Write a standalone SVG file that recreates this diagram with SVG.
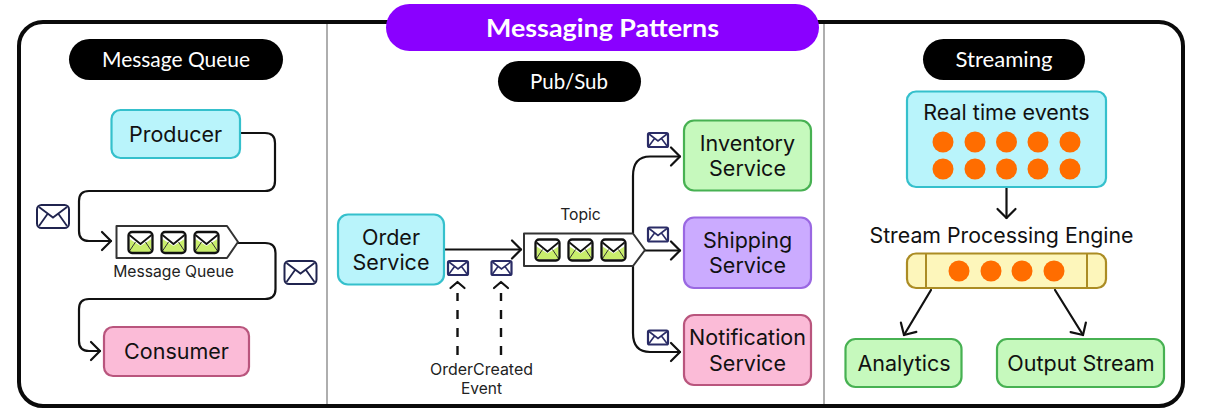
<svg xmlns="http://www.w3.org/2000/svg" xmlns:xlink="http://www.w3.org/1999/xlink" width="1208" height="411" viewBox="0 0 1208 411">
<style>
text{font-family:"Inter","Liberation Sans",sans-serif;fill:#111;text-anchor:middle}
.t{font-size:21.500px}
.s{font-size:15.700px;fill:#222}
.h{font-family:"Lato","Open Sans",sans-serif;font-size:21px;fill:#fff}
.b{stroke-width:2.200}
.blue{fill:#b9f4fb;stroke:#35c0cc}
.pink{fill:#fbbbd7;stroke:#b9557d}
.green{fill:#c6f9bd;stroke:#47b152}
.purple{fill:#cbabff;stroke:#9a68e2}
.yellow{fill:#fdf6bb;stroke:#ab8c24}
.line{fill:none;stroke:#111;stroke-width:2.200;stroke-linecap:round;stroke-linejoin:round}
.dash{stroke-dasharray:9 9;stroke-width:2.400;stroke-linecap:butt}
.q{fill:#fff;stroke:#333;stroke-width:2;stroke-linejoin:round}
.dot{fill:#ff6d00}
</style>
<defs>
<marker id="arr" markerUnits="userSpaceOnUse" markerWidth="20" markerHeight="24" refX="17" refY="12" orient="auto">
<path d="M8 3L17 12L8 21" fill="none" stroke="#111" stroke-width="2.200" stroke-linecap="round" stroke-linejoin="round"/>
</marker>
<g id="gm">
<rect x="0" y="0" width="24" height="21" rx="3.500" fill="#fff"/>
<path d="M1 20L1 7L12 14L23 7L23 20Z" fill="#c9ee6c"/>
<path d="M1 3L12 12L23 3" fill="none" stroke="#111" stroke-width="1.800"/>
<path d="M1 19L7 10M23 19L17 10" fill="none" stroke="#333" stroke-width="1"/>
<rect x="0" y="0" width="24" height="21" rx="3.500" fill="none" stroke="#111" stroke-width="2.300"/>
</g>
<g id="em">
<rect x="1" y="1" width="32" height="23" rx="4.500" fill="#fff" stroke="#20244f" stroke-width="2"/>
<path d="M3 3L17 13.500L31 3M3 22L11.500 10M31 22L22.500 10" fill="none" stroke="#20244f" stroke-width="1.800"/>
</g>
<g id="es">
<rect x="1" y="1" width="20" height="14" rx="1.500" fill="#fff" stroke="#2a2c66" stroke-width="2.200"/>
<path d="M2 2L11 9L20 2M2 14L7.500 6.500M20 14L14.500 6.500" fill="none" stroke="#2a2c66" stroke-width="1.600"/>
</g>
</defs>

<g id="frame">
<rect x="19" y="22" width="1164" height="384" rx="24" fill="#fff" stroke="#0a0a0a" stroke-width="4"/>
<path d="M327 24V404M824 24V404" stroke="#a6a6a6" stroke-width="1.800"/>
</g>

<g id="title">
<rect x="386" y="4" width="433" height="47" rx="23.500" fill="#8a00ff"/>
<text class="h" x="602.500" y="37" style="font-size:25px;font-weight:700" textLength="233" lengthAdjust="spacingAndGlyphs">Messaging Patterns</text>
</g>
<g id="header-queue">
<rect x="69" y="39" width="214" height="41" rx="20.500" fill="#000"/>
<text class="h" x="176" y="67" textLength="148" lengthAdjust="spacingAndGlyphs">Message Queue</text>
</g>
<g id="header-pubsub">
<rect x="498" y="61" width="143" height="41" rx="20.500" fill="#000"/>
<text class="h" x="569" y="89" textLength="78" lengthAdjust="spacingAndGlyphs">Pub/Sub</text>
</g>
<g id="header-streaming">
<rect x="923" y="39" width="162" height="41" rx="20.500" fill="#000"/>
<text class="h" x="1004" y="67" textLength="97" lengthAdjust="spacingAndGlyphs">Streaming</text>
</g>

<g id="connectors">
<path class="line" d="M240 133H265Q275 133 275 143V181Q275 191 265 191H89Q79 191 79 201V231Q79 241 89 241H111" marker-end="url(#arr)"/>
<path class="line" d="M238 243H265Q275.500 243 275.500 253V289Q275.500 299 265 299H89Q79 299 79 309V341Q79 351 89 351H100" marker-end="url(#arr)"/>
<path class="line" d="M445 249.500H521" marker-end="url(#arr)"/>
<path class="line" d="M633 233V176Q633 156.500 650 156.500H680" marker-end="url(#arr)"/>
<path class="line" d="M645 250.500H680" marker-end="url(#arr)"/>
<path class="line" d="M633 266V333Q633 352 650 352H680" marker-end="url(#arr)"/>
<path class="line dash" d="M457.500 355V293"/>
<path class="line dash" d="M501 355V293"/>
<path class="line" d="M450.500 288L457.500 282L464.500 288M494 288L501 282L508 288"/>
<path class="line" d="M1006.500 188V218" marker-end="url(#arr)"/>
<path class="line" d="M931 290L904 335" marker-end="url(#arr)"/>
<path class="line" d="M1055 290L1083 335" marker-end="url(#arr)"/>
</g>

<g id="producer">
<rect class="blue b" x="111.500" y="110" width="128.500" height="48" rx="9"/>
<text class="t" x="175.500" y="142">Producer</text>
</g>
<g id="message-queue">
<path class="q" d="M116.500 226H227L238 242L227 258H116.500Z"/>
<use xlink:href="#gm" href="#gm" x="128.500" y="232"/>
<use xlink:href="#gm" href="#gm" x="161.500" y="232"/>
<use xlink:href="#gm" href="#gm" x="194.500" y="232"/>
<text class="s" x="173.500" y="277">Message Queue</text>
</g>
<g id="consumer">
<rect class="pink b" x="104" y="327" width="145" height="49" rx="9"/>
<text class="t" x="176.500" y="359">Consumer</text>
</g>
<g id="envelope-1"><use xlink:href="#em" href="#em" x="36" y="204"/></g>
<g id="envelope-2"><use xlink:href="#em" href="#em" x="283.500" y="260"/></g>

<g id="order-service">
<rect class="blue b" x="338" y="214.500" width="106" height="70" rx="10"/>
<text class="t" x="391" y="244.500">Order</text>
<text class="t" x="391" y="270">Service</text>
</g>
<g id="envelope-3"><use xlink:href="#es" href="#es" x="447" y="260"/></g>
<g id="envelope-4"><use xlink:href="#es" href="#es" x="490.500" y="260"/></g>
<g id="order-created-label">
<text class="s" x="481.500" y="375" style="font-size:15.500px" textLength="103" lengthAdjust="spacingAndGlyphs">OrderCreated</text>
<text class="s" x="481.500" y="394" style="font-size:15.500px">Event</text>
</g>
<g id="topic">
<text class="s" x="580.500" y="220">Topic</text>
<path class="q" d="M524 233.500H633L645 250L633 266H524Z"/>
<use xlink:href="#gm" href="#gm" x="535.500" y="239.500"/>
<use xlink:href="#gm" href="#gm" x="568.500" y="239.500"/>
<use xlink:href="#gm" href="#gm" x="601.500" y="239.500"/>
</g>
<g id="envelope-5"><use xlink:href="#es" href="#es" x="647" y="132"/></g>
<g id="envelope-6"><use xlink:href="#es" href="#es" x="647" y="226.500"/></g>
<g id="envelope-7"><use xlink:href="#es" href="#es" x="647" y="329.500"/></g>
<g id="inventory-service">
<rect class="green b" x="684" y="120.500" width="127" height="70" rx="10"/>
<text class="t" x="747.500" y="150.500">Inventory</text>
<text class="t" x="747.500" y="176">Service</text>
</g>
<g id="shipping-service">
<rect class="purple b" x="684" y="217.500" width="127" height="70.500" rx="10"/>
<text class="t" x="747.500" y="247.500">Shipping</text>
<text class="t" x="747.500" y="273">Service</text>
</g>
<g id="notification-service">
<rect class="pink b" x="684" y="315" width="127" height="70" rx="10"/>
<text class="t" x="747.500" y="345">Notification</text>
<text class="t" x="747.500" y="371">Service</text>
</g>

<g id="real-time-events">
<rect class="blue b" x="907" y="91.500" width="199" height="95.500" rx="9"/>
<text class="t" x="1006.500" y="120">Real time events</text>
<circle class="dot" cx="943" cy="142" r="10.500"/><circle class="dot" cx="975" cy="142" r="10.500"/><circle class="dot" cx="1006.500" cy="142" r="10.500"/><circle class="dot" cx="1038" cy="142" r="10.500"/><circle class="dot" cx="1070" cy="142" r="10.500"/>
<circle class="dot" cx="943" cy="169" r="10.500"/><circle class="dot" cx="975" cy="169" r="10.500"/><circle class="dot" cx="1006.500" cy="169" r="10.500"/><circle class="dot" cx="1038" cy="169" r="10.500"/><circle class="dot" cx="1070" cy="169" r="10.500"/>
</g>
<g id="stream-processing-engine">
<text class="t" x="1001.500" y="242.500" style="font-size:21.300px">Stream Processing Engine</text>
<rect class="yellow b" x="907" y="253.500" width="199" height="34.500" rx="9"/>
<path d="M926 254V288M1087 254V288" stroke="#ab8c24" stroke-width="2"/>
<circle class="dot" cx="959" cy="271" r="10.500"/><circle class="dot" cx="991" cy="271" r="10.500"/><circle class="dot" cx="1022" cy="271" r="10.500"/><circle class="dot" cx="1054" cy="271" r="10.500"/>
</g>
<g id="analytics">
<rect class="green b" x="845.500" y="339" width="116" height="48" rx="10"/>
<text class="t" x="904" y="371">Analytics</text>
</g>
<g id="output-stream">
<rect class="green b" x="997" y="339" width="167" height="48" rx="10"/>
<text class="t" x="1081" y="371">Output Stream</text>
</g>
</svg>
